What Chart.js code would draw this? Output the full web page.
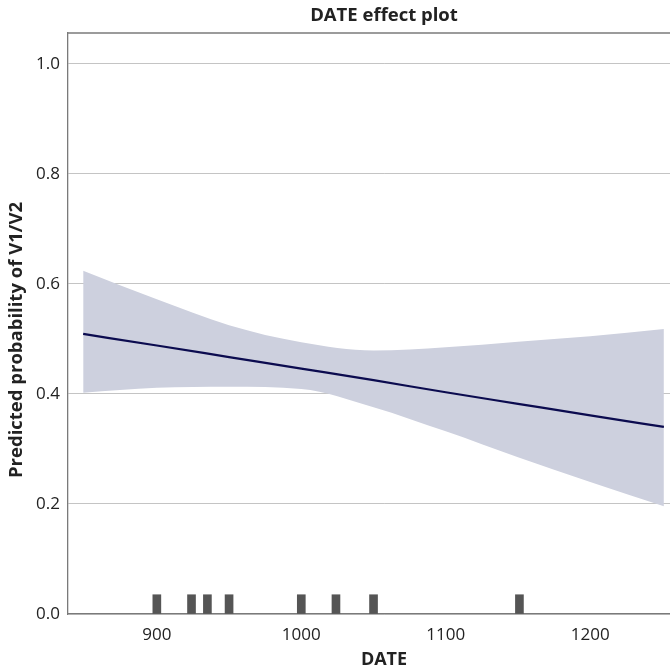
<!DOCTYPE html>
<html>
<head>
<meta charset="utf-8">
<title>DATE effect plot</title>
<script src="https://cdn.jsdelivr.net/npm/chart.js@4.4.1/dist/chart.umd.min.js"></script>
<style>
    html, body { margin: 0; padding: 0; background: #fff; overflow: hidden; }
    #wrap { width: 710px; height: 671px; }
</style>
</head>
<body>
<div id="wrap"><canvas id="effect" width="710" height="671"></canvas></div>
<script>
// Fitted curve and confidence band
var dates = [849, 900, 950, 1000, 1050, 1100, 1150, 1200, 1251];
var fit = [0.509, 0.488, 0.467, 0.446, 0.425, 0.403, 0.382, 0.361, 0.340];
var upper = [0.624, 0.572, 0.525, 0.494, 0.479, 0.485, 0.495, 0.505, 0.518];
var lower = [0.402, 0.411, 0.413, 0.409, 0.376, 0.332, 0.285, 0.240, 0.196];

// Observed dates shown as a rug along the bottom
var rugDates = [900, 924, 935, 950, 1000, 1024, 1050, 1151];
var rugHeight = 0.035;

var yTicks = [0, 0.2, 0.4, 0.6, 0.8, 1.0];
var xTicks = [900, 1000, 1100, 1200];

var font = "'Open Sans', 'DejaVu Sans', sans-serif";

function points(xs, ys) {
    return xs.map(function (x, i) { return { x: x, y: ys[i] }; });
}

var framePlugin = {
    id: 'frame',
    afterDraw: function (chart) {
        var c = chart.ctx;
        var a = chart.chartArea;
        c.save();
        // top edge of the panel
        c.strokeStyle = '#7a7a7a';
        c.lineWidth = 1.3;
        c.beginPath();
        c.moveTo(a.left, a.top);
        c.lineTo(a.right, a.top);
        c.stroke();
        // y axis title
        c.translate(17, 340);
        c.rotate(-Math.PI / 2);
        c.fillStyle = '#222';
        c.font = 'bold 18.5px ' + font;
        c.textAlign = 'center';
        c.textBaseline = 'middle';
        c.fillText('Predicted probability of V1/V2', 0, 0);
        c.restore();
    }
};

var ctx = document.getElementById('effect');
var chart = new Chart(ctx, {
    type: 'line',
    data: {
        datasets: [{
            label: 'upper',
            data: points(dates, upper),
            borderWidth: 0,
            borderColor: 'rgba(0,0,0,0)',
            backgroundColor: '#cdd0de',
            pointRadius: 0,
            cubicInterpolationMode: 'monotone',
            fill: '+1',
            order: 3
        }, {
            label: 'lower',
            data: points(dates, lower),
            borderWidth: 0,
            borderColor: 'rgba(0,0,0,0)',
            pointRadius: 0,
            cubicInterpolationMode: 'monotone',
            fill: false,
            order: 3
        }, {
            label: 'fit',
            data: points(dates, fit),
            borderWidth: 2.2,
            borderColor: '#0b0b4f',
            pointRadius: 0,
            cubicInterpolationMode: 'monotone',
            fill: false,
            order: 1
        }, {
            type: 'bar',
            label: 'rug',
            data: rugDates.map(function (d) { return { x: d, y: rugHeight }; }),
            backgroundColor: '#555555',
            barThickness: 8,
            grouped: false,
            order: 2
        }]
    },
    options: {
        responsive: false,
        animation: false,
        devicePixelRatio: 1,
        layout: { padding: { left: 0, right: 10, top: 0, bottom: 0 } },
        plugins: {
            legend: { display: false },
            tooltip: { enabled: false },
            title: {
                display: true,
                text: 'DATE effect plot',
                fullSize: false,
                color: '#222',
                font: { family: font, size: 18.5, weight: 'bold', lineHeight: 1.2 },
                padding: { top: 5, bottom: 5.8 }
            }
        },
        scales: {
            x: {
                type: 'linear',
                offset: false,
                min: 838.5,
                max: 1276,
                afterBuildTicks: function (axis) {
                    axis.ticks = xTicks.map(function (v) { return { value: v }; });
                },
                afterFit: function (axis) { axis.height = 57; },
                grid: { display: false, drawTicks: false, offset: false },
                border: { display: true, color: '#7a7a7a', width: 1.3 },
                ticks: {
                    padding: 11,
                    color: '#222',
                    font: { family: font, size: 17 },
                    maxRotation: 0,
                    callback: function (v) { return String(v); }
                },
                title: {
                    display: true,
                    text: 'DATE',
                    color: '#222',
                    font: { family: font, size: 18, weight: 'bold', lineHeight: 1.2 },
                    padding: { top: 4, bottom: 0 }
                }
            },
            y: {
                type: 'linear',
                min: 0,
                max: 1.056,
                afterBuildTicks: function (axis) {
                    axis.ticks = yTicks.map(function (v) { return { value: v }; });
                },
                afterFit: function (axis) { axis.width = 68; },
                grid: { color: '#c4c4c4', lineWidth: 1, drawTicks: false },
                border: { display: true, color: '#7a7a7a', width: 1.3 },
                ticks: {
                    padding: 8,
                    color: '#222',
                    font: { family: font, size: 17 },
                    callback: function (v) { return v.toFixed(1); }
                }
            }
        }
    },
    plugins: [framePlugin]
});
</script>
</body>
</html>
